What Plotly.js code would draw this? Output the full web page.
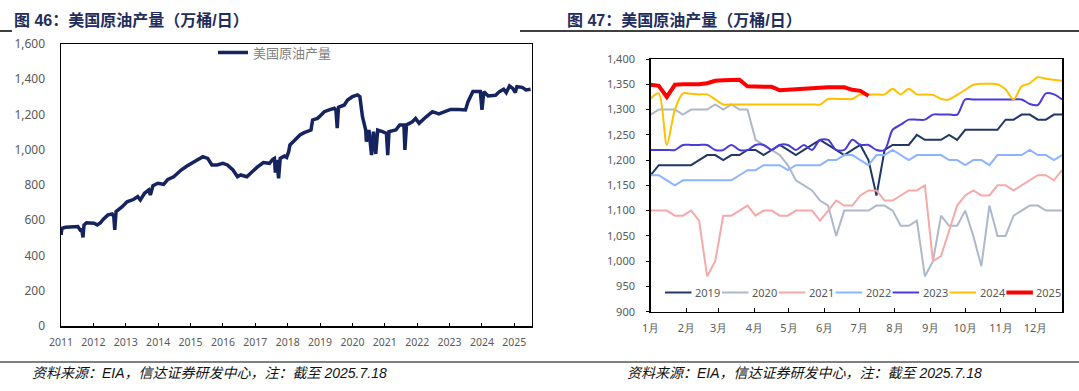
<!DOCTYPE html>
<html><head><meta charset="utf-8">
<script src="https://cdn.plot.ly/plotly-3.0.1.min.js"></script>
<style>html,body{margin:0;padding:0;background:#fff}#chart{width:1079px;height:391px}</style>
</head><body><div id="chart"></div>
<script>
const W = 1079, H = 391;

// ---------- Figure 46: US crude output, weekly (万桶/日) ----------
const usDate = [2011.00,2011.03,2011.14,2011.35,2011.52,2011.59,2011.64,2011.68,2011.71,2011.79,
  2012.02,2012.12,2012.22,2012.30,2012.45,2012.58,2012.63,2012.66,2012.70,2012.89,
  2013.04,2013.25,2013.37,2013.45,2013.58,2013.71,2013.76,2013.84,2013.99,
  2014.17,2014.30,2014.48,2014.58,2014.71,2014.89,
  2015.08,2015.22,2015.38,2015.53,2015.66,2015.82,
  2016.00,2016.14,2016.31,2016.45,2016.55,2016.74,2016.86,
  2017.05,2017.25,2017.44,2017.54,2017.59,2017.62,2017.66,2017.72,2017.77,2017.90,2017.97,
  2018.03,2018.07,2018.21,2018.38,2018.51,2018.72,2018.77,2018.92,2018.98,
  2019.13,2019.28,2019.44,2019.49,2019.53,2019.57,2019.75,2019.85,
  2020.00,2020.16,2020.23,2020.31,2020.41,2020.43,2020.51,2020.59,2020.65,2020.72,2020.78,2020.93,
  2021.05,2021.09,2021.13,2021.34,2021.46,2021.59,2021.62,2021.67,2021.85,2021.95,
  2022.06,2022.26,2022.47,2022.67,2022.88,
  2023.03,2023.29,2023.49,2023.57,2023.72,2023.95,
  2024.00,2024.06,2024.19,2024.42,2024.54,2024.67,2024.75,2024.85,2024.95,
  2025.03,2025.08,2025.24,2025.36,2025.50];
const usOutput = [516,554,560,560,564,545,548,503,573,586,
  583,573,586,605,630,636,620,545,649,677,
  705,719,734,715,753,772,743,796,810,
  804,832,847,866,885,908,
  927,946,961,951,914,914,
  923,914,885,847,857,847,870,
  900,927,923,946,951,870,942,838,951,965,957,
  989,1027,1052,1084,1097,1112,1169,1178,1188,
  1216,1226,1235,1226,1122,1241,1254,1282,
  1301,1311,1301,1188,1112,1046,1112,970,1103,976,1112,1103,
  1093,970,1103,1112,1141,1141,999,1141,1159,1178,
  1150,1184,1216,1203,1216,
  1229,1229,1226,1273,1330,1330,
  1226,1330,1305,1309,1330,1343,1324,1362,1348,
  1324,1358,1354,1339,1343];
const yearTicks = [2011,2012,2013,2014,2015,2016,2017,2018,2019,2020,2021,2022,2023,2024,2025];

// ---------- Figure 47: weekly output by year (万桶/日) ----------
const seriesNames = ['2019','2020','2021','2022','2023','2024','2025'];
const y2019 = [1170,1190,1190,1190,1190,1190,1200,1210,1210,1200,1210,1210,1220,1220,1210,1220,1230,1220,1210,1220,1230,1240,1230,1220,1210,1220,
  1230,1200,1130,1220,1230,1230,1230,1250,1240,1240,1240,1250,1240,1260,1260,1260,1260,1260,1280,1280,1290,1290,1280,1280,1290,1290];
const y2020 = [1290,1300,1300,1300,1290,1300,1300,1300,1310,1300,1310,1300,1300,1240,1230,1220,1210,1190,1160,1150,1140,1120,1110,1050,1100,1100,
  1100,1100,1110,1110,1100,1070,1070,1080,970,1000,1090,1070,1070,1100,1050,990,1110,1050,1050,1090,1100,1110,1110,1100,1100,1100];
const y2021 = [1100,1100,1100,1090,1090,1100,1080,970,1000,1090,1090,1100,1110,1090,1100,1100,1090,1090,1100,1100,1100,1080,1100,1120,1110,1110,
  1130,1140,1140,1120,1120,1130,1140,1140,1150,1000,1010,1060,1110,1130,1140,1130,1130,1150,1150,1140,1150,1160,1170,1170,1160,1180];
const y2022 = [1170,1170,1160,1150,1160,1160,1160,1160,1160,1160,1160,1170,1180,1180,1190,1190,1190,1180,1190,1190,1190,1190,1200,1200,1210,1210,
  1200,1190,1210,1210,1220,1210,1200,1210,1210,1210,1210,1200,1200,1190,1200,1200,1190,1210,1210,1210,1210,1220,1210,1210,1200,1210];
const y2023 = [1220,1220,1220,1220,1230,1230,1230,1230,1220,1220,1230,1220,1220,1230,1230,1220,1230,1230,1220,1230,1220,1240,1240,1220,1220,1240,
  1230,1230,1220,1220,1260,1270,1280,1280,1280,1290,1290,1290,1290,1320,1320,1320,1320,1320,1320,1320,1320,1311,1309,1332,1330,1320];
const y2024 = [1322,1332,1230,1300,1332,1331,1330,1330,1320,1310,1310,1310,1310,1310,1310,1310,1310,1310,1310,1310,1310,1310,1321,1321,1321,1321,
  1330,1330,1330,1330,1341,1330,1341,1330,1330,1329,1321,1320,1329,1339,1349,1351,1351,1350,1340,1320,1346,1352,1364,1361,1359,1357];
const y2025 = [1349,1347,1325,1349,1350,1350,1350,1352,1357,1358,1358,1359,1346,1345,1345,1345,1338,1339,1340,1340,1342,1344,1344,1344,1344,1339,
  1337,1327];
const seriesValues = [y2019,y2020,y2021,y2022,y2023,y2024,y2025];
const monthStartDay = [0,31,59,90,120,151,181,212,243,273,304,334];
const monthLabels = ['1月','2月','3月','4月','5月','6月','7月','8月','9月','10月','11月','12月'];

// ---------- styles ----------
const seriesColors = ['#203864','#ADB9CA','#F5A9A9','#8DB4FF','#4B3BDB','#FFC000','#FF0000'];
const seriesWidths = [2,2,2,2,2,2,4];
const seriesShape = ['linear','linear','linear','linear','spline','spline','linear'];
const px = x => x / W, py = y => 1 - y / H;
const tickFont = 'Noto Sans, Liberation Sans, sans-serif';
const cjk = 'Liberation Sans, Noto Sans CJK SC, sans-serif';

const traces = [{
  x: usDate, y: usOutput, xaxis: 'x', yaxis: 'y', type: 'scatter', mode: 'lines',
  name: '美国原油产量', line: {color: '#15245E', width: 3.5}, showlegend: true
}];
seriesNames.forEach((n, k) => {
  traces.push({
    x: seriesValues[k].map((_, i) => i), y: seriesValues[k], xaxis: 'x2', yaxis: 'y2',
    type: 'scatter', mode: 'lines', name: n, showlegend: false,
    line: {color: seriesColors[k], width: seriesWidths[k], shape: seriesShape[k], smoothing: 0.8}
  });
});

const shapes = [
  {type:'line', xref:'paper', yref:'paper', x0:px(0), x1:px(12), y0:py(31), y1:py(31), line:{color:'#000', width:1.5}},
  {type:'line', xref:'paper', yref:'paper', x0:px(520), x1:px(1079), y0:py(31), y1:py(31), line:{color:'#000', width:1.5}},
  {type:'line', xref:'paper', yref:'paper', x0:0, x1:1, y0:py(362), y1:py(362), line:{color:'#000', width:1}}
];
const annotations = [
  {text:'<b>图 46：美国原油产量（万桶/日）</b>', xref:'paper', yref:'paper', x:px(12), y:py(19.5), xanchor:'left', yanchor:'middle', showarrow:false,
   font:{family:cjk, size:16, color:'#1F2D5C'}},
  {text:'<b>图 47：美国原油产量（万桶/日）</b>', xref:'paper', yref:'paper', x:px(565), y:py(19.5), xanchor:'left', yanchor:'middle', showarrow:false,
   font:{family:cjk, size:16, color:'#1F2D5C'}},
  {text:'<i>资料来源：EIA，信达证券研发中心，注：截至 2025.7.18</i>', xref:'paper', yref:'paper', x:px(30), y:py(373), xanchor:'left', yanchor:'middle', showarrow:false,
   font:{family:cjk, size:14, color:'#111'}},
  {text:'<i>资料来源：EIA，信达证券研发中心，注：截至 2025.7.18</i>', xref:'paper', yref:'paper', x:px(625), y:py(373), xanchor:'left', yanchor:'middle', showarrow:false,
   font:{family:cjk, size:14, color:'#111'}}
];
// custom legend for figure 47
const legX0 = 665, legPitch = 56.9, legLen = 26.5, legY = 292.5;
seriesNames.forEach((n, k) => {
  const x0 = legX0 + k * legPitch;
  shapes.push({type:'line', xref:'paper', yref:'paper', x0:px(x0), x1:px(x0 + legLen), y0:py(legY), y1:py(legY),
    line:{color: seriesColors[k], width: seriesWidths[k]}});
  annotations.push({text:n, xref:'paper', yref:'paper', x:px(x0 + legLen + 1.5), y:py(legY), xanchor:'left', yanchor:'middle',
    showarrow:false, font:{family:tickFont, size:11, color:'#595959'}});
});

const axisLine = {showline:true, linecolor:'#000', linewidth:1.5, mirror:true, showgrid:false, zeroline:false};
const layout = {
  width: W, height: H, margin: {l:0, r:0, t:0, b:0}, paper_bgcolor:'#fff', plot_bgcolor:'#fff',
  showlegend: true,
  legend: {x: px(213), y: py(52.5), xanchor:'left', yanchor:'middle', bgcolor:'rgba(0,0,0,0)', borderwidth:0,
    font:{family:'Noto Sans CJK SC, sans-serif', size:13, color:'#808080'}},
  xaxis: Object.assign({}, axisLine, {domain:[px(61), px(531.5)], range:[2011, 2025.53], tickvals: yearTicks,
    ticks:'inside', ticklen:3.5, tickcolor:'#000', tickfont:{family:tickFont, size:10.5, color:'#595959'}, ticklabelstandoff:6}),
  yaxis: Object.assign({}, axisLine, {domain:[py(326), py(44)], range:[0, 1600], dtick:200, tickformat:',d',
    ticks:'', tickfont:{family:tickFont, size:12, color:'#595959'}, ticklabelstandoff:12}),
  xaxis2: Object.assign({}, axisLine, {anchor:'y2', domain:[px(650.7), px(1062)], range:[0, 51],
    tickvals: monthStartDay.map(d => d / 7), ticktext: monthLabels,
    ticks:'inside', ticklen:3.5, tickcolor:'#000', tickfont:{family:tickFont, size:11, color:'#595959'}, ticklabelstandoff:6}),
  yaxis2: Object.assign({}, axisLine, {anchor:'x2', domain:[py(311.7), py(59)], range:[900, 1400], dtick:50, tickformat:',d',
    ticks:'outside', ticklen:3, tickcolor:'#000', tickfont:{family:tickFont, size:11, color:'#595959'}, ticklabelstandoff:9}),
  shapes: shapes, annotations: annotations
};
Plotly.newPlot('chart', traces, layout, {staticPlot:true, displayModeBar:false});
</script></body></html>
